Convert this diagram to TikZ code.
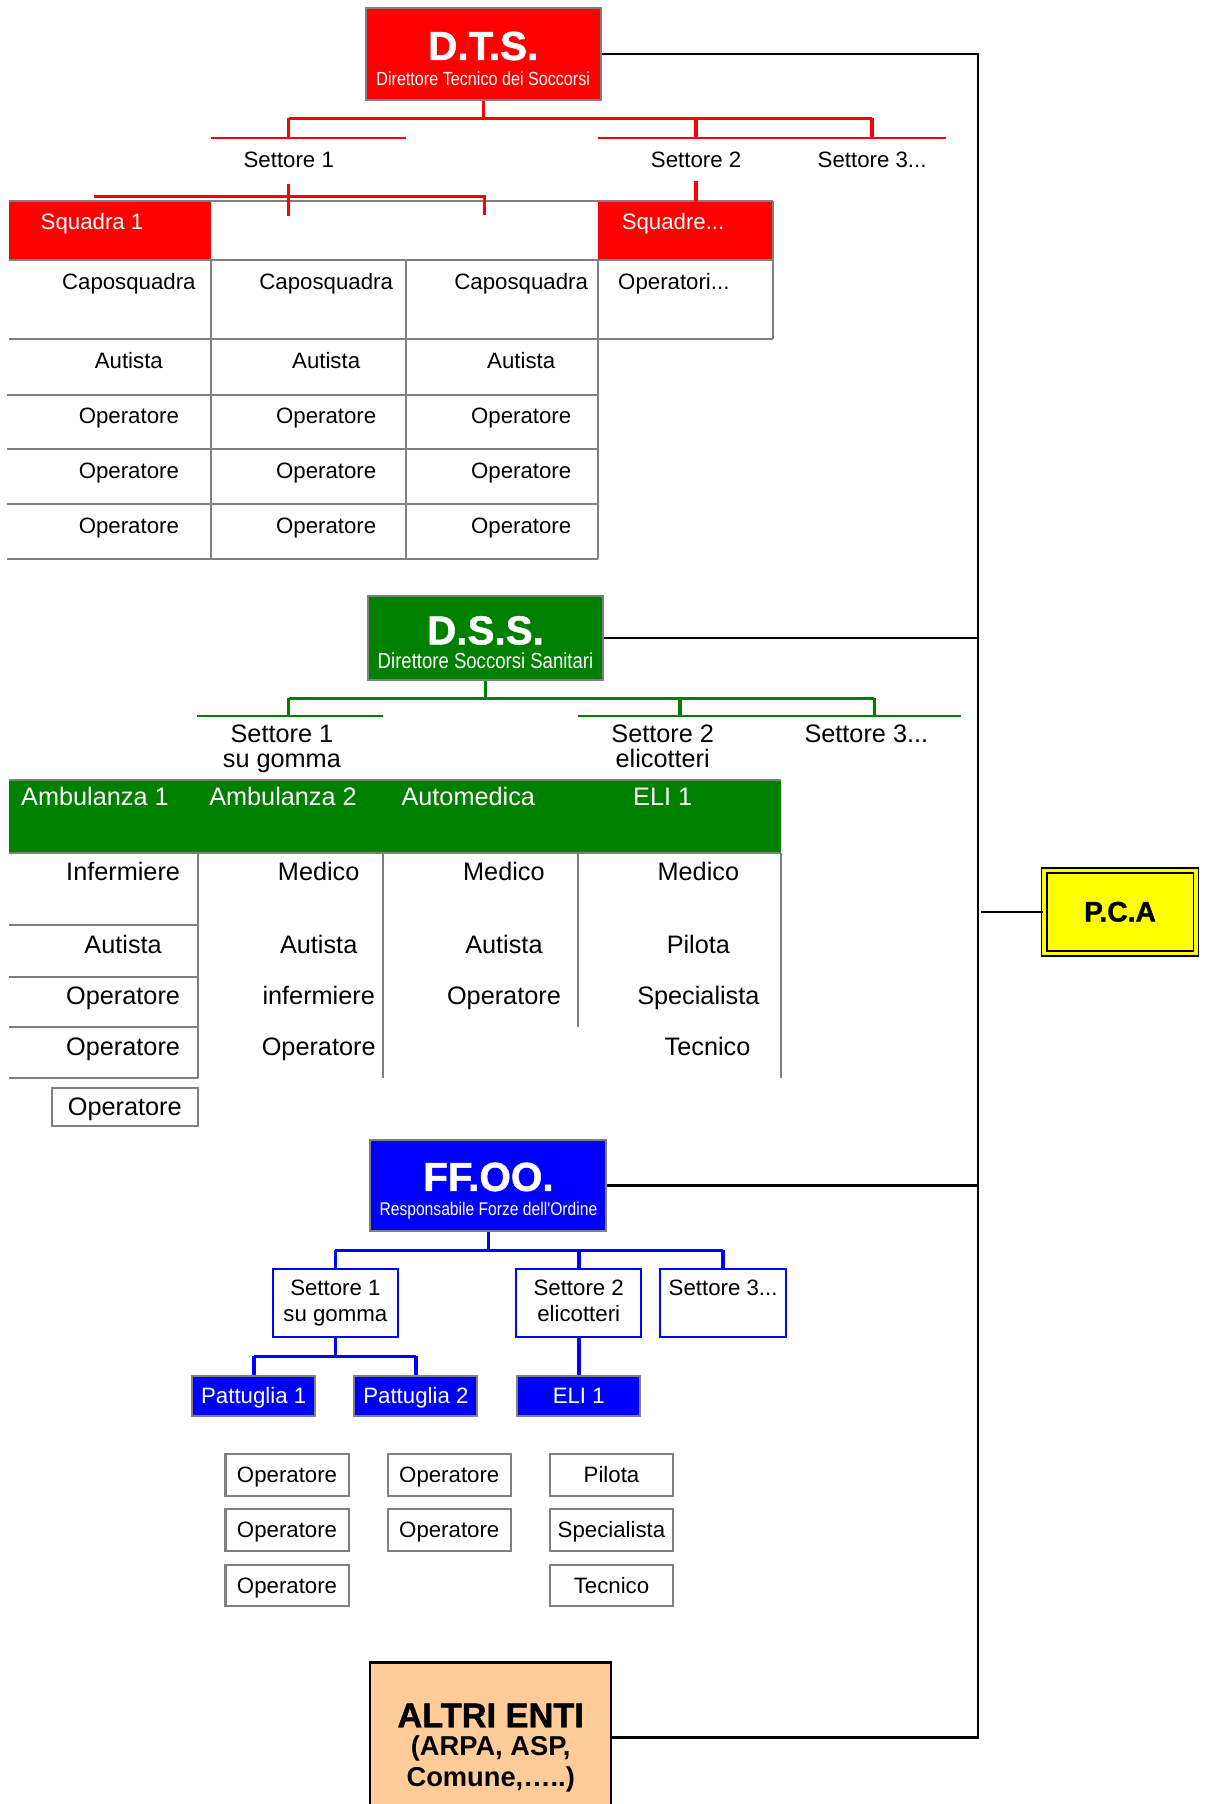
\documentclass[tikz,border=0pt]{standalone}
\usepackage{fontspec}
\setmainfont{Liberation Sans}
\newfontfamily\heavyfont[FakeBold=1.2]{Liberation Sans Bold}
\newfontfamily\narrowfont[FakeStretch=0.85]{Liberation Sans}
\usetikzlibrary{positioning}
\definecolor{dtsred}{HTML}{FF0000}
\definecolor{dssgreen}{HTML}{008000}
\definecolor{ffooblue}{HTML}{0000FF}
\definecolor{pcayellow}{HTML}{FFFF00}
\definecolor{entipeach}{HTML}{FFCC99}
\definecolor{cellgray}{HTML}{808080}
\tikzset{txt/.style = {font=\fontsize{11}{13}\selectfont, inner sep=0pt,
                       text height=10.2pt, text depth=1.2pt},
         txtb/.style = {font=\fontsize{12.5}{12.5}\selectfont, inner sep=0pt,
                        text height=11pt, text depth=1.3pt},
         txtm/.style = {font=\fontsize{12.5}{12.5}\selectfont, inner sep=0pt, align=center},
         headbox/.style = {draw=cellgray, line width=1pt, inner sep=0pt},
         headname/.style = {font=\fontsize{20}{22}\selectfont\heavyfont, text=white, inner sep=0pt},
         headsub/.style = {text=white, inner sep=0pt},
         cellline/.style = {cellgray, line width=1pt},
         busline/.style = {black, line width=1.2pt},
         redbar/.style = {dtsred, line width=1.6pt},
         redrule/.style = {dtsred, line width=0.9pt},
         greenbar/.style = {dssgreen, line width=1.6pt},
         greenrule/.style = {dssgreen, line width=0.9pt},
         bluebar/.style = {ffooblue, line width=1.8pt},
         setbox/.style = {draw=ffooblue, line width=1pt, fill=white, align=center,
                          minimum width=2.18cm, minimum height=1.18cm, inner sep=0pt,
                          font=\fontsize{11}{13}\selectfont},
         patbox/.style = {draw=cellgray, line width=1pt, fill=ffooblue, text=white,
                          minimum width=2.14cm, minimum height=0.70cm, inner sep=0pt,
                          text height=9pt, text depth=1.5pt,
                          font=\fontsize{11}{13}\selectfont},
         opbox/.style = {draw=cellgray, line width=1pt, fill=white,
                         minimum width=2.14cm, minimum height=0.72cm, inner sep=0pt,
                         text height=9pt, text depth=1.5pt,
                         font=\fontsize{11}{13}\selectfont}}
\begin{document}
\begin{tikzpicture}
    \useasboundingbox (0, 0) rectangle (20.94, -31.36);

    % D.T.S.
    \node [headbox, fill=dtsred, minimum width=4.08cm, minimum height=1.60cm] (dts) at (8.40, -0.94) {};
    \node [headname] (dtsname) at (8.40, -0.80) {D.T.S.};
    \node [headsub, font=\fontsize{9.4}{11}\narrowfont] (dtssub) at (8.40, -1.36) {Direttore Tecnico dei Soccorsi};

    \node [txt] (dts1) at (5.02, -2.76) {Settore 1};
    \node [txt] (dts2) at (12.10, -2.76) {Settore 2};
    \node [txt] (dts3) at (15.16, -2.76) {Settore 3...};
    \coordinate (dtsrule) at (0, -2.40);

    \fill [dtsred] (0.16, -3.50) rectangle (3.66, -4.52);
    \fill [dtsred] (10.40, -3.50) rectangle (13.44, -4.52);
    \draw [cellline] (0.16, -3.50) -- (13.44, -3.50);
    \foreach \y in {-4.52, -5.90}
        \draw [cellline] (0.16, \y) -- (13.44, \y);
    \foreach \y in {-6.86, -7.80, -8.76, -9.72}
        \draw [cellline] (0.12, \y) -- (10.40, \y);
    \foreach \x in {3.66, 7.06, 10.40}
        \draw [cellline] (\x, -4.52) -- (\x, -9.72);
    \draw [cellline] (13.44, -3.50) -- (13.44, -5.90);

    \node [txt, text=white] (squad1) at (1.60, -3.84) {Squadra 1};
    \node [txt, text=white] (squadn) at (11.70, -3.84) {Squadre...};
    \node [txt, anchor=west] (dtsopall) at (10.74, -4.88) {Operatori...};
    \foreach \x [count=\c] in {2.24, 5.67, 9.06} {
        \node [txt] (dtscapo\c) at (\x, -4.88) {Caposquadra};
        \node [txt] (dtsaut\c) at (\x, -6.24) {Autista};
        \foreach \y [count=\r] in {-7.20, -8.16, -9.12}
            \node [txt] (dtsop\c\r) at (\x, \y) {Operatore};
    }

    \draw [redbar] (dts.south) -- ++(0, -0.30) coordinate (dtsfork);
    \draw [redbar] (dtsfork -| dts1) -- (dtsfork -| dts3);
    \foreach \s in {dts1, dts2, dts3}
        \draw [redbar] (dtsfork -| \s) -- (\s |- dtsrule);
    \draw [redrule] (3.66, -2.40) -- (7.06, -2.40);
    \draw [redrule] (10.40, -2.40) -- (16.44, -2.40);

    \coordinate (sqA) at (1.64, -3.42);
    \coordinate (sqC) at (8.42, -3.74);
    \draw [redbar] (dts1.south) ++(0, -0.24) -- ++(0, -0.54);
    \draw [redbar] (sqA) -| (sqC);
    \draw [redbar] (dts2.south) ++(0, -0.18) -- ++(0, -0.36);

    % D.S.S.
    \node [headbox, fill=dssgreen, minimum width=4.08cm, minimum height=1.46cm] (dss) at (8.44, -11.09) {};
    \node [headname] (dssname) at (8.44, -10.96) {D.S.S.};
    \node [headsub, font=\fontsize{10.8}{12}\narrowfont] (dsssub) at (8.44, -11.48) {Direttore Soccorsi Sanitari};

    \node [txtm] (dss1) at (4.90, -13.02) {Settore 1\\su gomma};
    \node [txtm] (dss2) at (11.52, -13.02) {Settore 2\\elicotteri\vphantom{g}};
    \node [txtb] (dss3) at (15.06, -12.74) {Settore 3...};
    \coordinate (dssleg1) at (5.02, -12.44);
    \coordinate (dssleg2) at (11.82, -12.44);
    \coordinate (dssleg3) at (15.20, -12.44);

    \draw [greenbar] (dss.south) -- ++(0, -0.30) coordinate (dssfork);
    \draw [greenbar] (dssfork -| dssleg1) -- (dssfork -| dssleg3);
    \foreach \i in {1, 2, 3}
        \draw [greenbar] (dssfork -| dssleg\i) -- (dssleg\i);
    \draw [greenrule] (3.42, -12.44) -- (6.66, -12.44);
    \draw [greenrule] (10.04, -12.44) -- (16.70, -12.44);

    \fill [dssgreen] (0.16, -13.56) rectangle (13.58, -14.82);
    \draw [cellline] (0.16, -13.56) -- (13.58, -13.56);
    \draw [cellline] (0.16, -14.82) -- (13.58, -14.82);
    \foreach \x in {3.44, 6.66, 13.58}
        \draw [cellline] (\x, -14.82) -- (\x, -18.74);
    \draw [cellline] (10.04, -14.82) -- (10.04, -17.86);
    \foreach \y in {-16.08, -16.98, -17.86, -18.74}
        \draw [cellline] (0.16, \y) -- (3.44, \y);

    \foreach \x/\t [count=\c] in {1.65/Ambulanza 1, 4.92/Ambulanza 2, 8.14/Automedica, 11.52/ELI 1}
        \node [txtb, text=white] (dssveh\c) at (\x, -13.84) {\t};
    \foreach \y/\t [count=\r] in {-15.14/Infermiere, -16.41/Autista, -17.29/Operatore, -18.17/Operatore}
        \node [txtb] (dssamba\r) at (2.14, \y) {\t};
    \foreach \y/\t [count=\r] in {-15.14/Medico, -16.41/Autista, -17.29/infermiere, -18.17/Operatore}
        \node [txtb] (dssambb\r) at (5.54, \y) {\t};
    \foreach \y/\t [count=\r] in {-15.14/Medico, -16.41/Autista, -17.29/Operatore}
        \node [txtb] (dssauto\r) at (8.76, \y) {\t};
    \foreach \y/\t [count=\r] in {-15.14/Medico, -16.41/Pilota, -17.29/Specialista}
        \node [txtb] (dsseli\r) at (12.14, \y) {\t};
    \node [txtb] (dsseli4) at (12.30, -18.17) {Tecnico};
    \node [draw=cellgray, line width=1pt, minimum width=2.54cm, minimum height=0.66cm,
           inner sep=0pt, text height=10pt, text depth=1.5pt,
           font=\fontsize{12.5}{12.5}\selectfont] (dssamba5) at (2.17, -19.25) {Operatore};

    % FF.OO.
    \node [headbox, fill=ffooblue, minimum width=4.10cm, minimum height=1.58cm] (ffoo) at (8.49, -20.61) {};
    \node [headname] (ffooname) at (8.49, -20.46) {FF.OO.};
    \node [headsub, font=\fontsize{9.1}{11}\narrowfont] (ffoosub) at (8.49, -21.04) {Responsabile Forze dell'Ordine};

    \node [setbox] (fs1) at (5.83, -22.65) {Settore 1\\su gomma};
    \node [setbox] (fs2) at (10.06, -22.65) {Settore 2\\elicotteri\vphantom{g}};
    \node [setbox] (fs3) at (12.57, -22.65) {Settore 3...\\\phantom{su gomma}};

    \draw [bluebar] (ffoo.south) -- ++(0, -0.32) coordinate (ffoofork);
    \draw [bluebar] (ffoofork -| fs1) -- (ffoofork -| fs3);
    \foreach \s in {fs1, fs2, fs3}
        \draw [bluebar] (ffoofork -| \s) -- (\s.north);

    \node [patbox] (pat1) at (4.41, -24.27) {Pattuglia 1};
    \node [patbox] (pat2) at (7.23, -24.27) {Pattuglia 2};
    \node [patbox] (eli) at (10.06, -24.27) {ELI 1};

    \draw [bluebar] (fs1.south) -- ++(0, -0.32) coordinate (patfork);
    \draw [bluebar] (patfork -| pat1) -- (patfork -| pat2);
    \draw [bluebar] (patfork -| pat1) -- (pat1.north);
    \draw [bluebar] (patfork -| pat2) -- (pat2.north);
    \draw [bluebar] (fs2.south) -- (eli.north);

    \foreach \y [count=\r] in {-25.64, -26.60, -27.56}
        \node [opbox] (patop1\r) at (4.99, \y) {Operatore};
    \foreach \y [count=\r] in {-25.64, -26.60}
        \node [opbox] (patop2\r) at (7.81, \y) {Operatore};
    \foreach \y/\t [count=\r] in {-25.64/Pilota, -26.60/Specialista, -27.56/Tecnico}
        \node [opbox] (eliop\r) at (10.63, \y) {\t};

    % ALTRI ENTI
    \node [draw=black, line width=1pt, fill=entipeach, minimum width=4.18cm, minimum height=2.60cm] (altri) at (8.53, -30.20) {};
    \node [font=\fontsize{17}{19}\selectfont\heavyfont, inner sep=0pt] (altriname) at (8.53, -29.82) {ALTRI ENTI};
    \node [font=\fontsize{13.5}{15}\selectfont\bfseries, inner sep=0pt] (altriarpa) at (8.53, -30.40) {(ARPA, ASP,};
    \node [font=\fontsize{13.5}{15}\selectfont\bfseries, inner sep=0pt] (altricom) at (8.53, -30.94) {Comune,…..)};

    % P.C.A
    \node [draw=black, line width=0.9pt, double=pcayellow, double distance=1.6pt, fill=pcayellow,
           minimum width=2.64cm, minimum height=1.44cm, font=\fontsize{14}{16}\selectfont\heavyfont] (pca) at (19.47, -15.85) {P.C.A};

    \coordinate (spine) at (17.0, 0);
    \draw [busline] (dts.east) -| (spine |- altri.east) -- (altri.east);
    \draw [busline] (dss.east) -- (dss.east -| spine);
    \draw [busline] (ffoo.east) -- (ffoo.east -| spine);
    \draw [busline] (pca.west) -- ([xshift=0.06cm]pca.west -| spine);
  \end{tikzpicture}
\end{document}
